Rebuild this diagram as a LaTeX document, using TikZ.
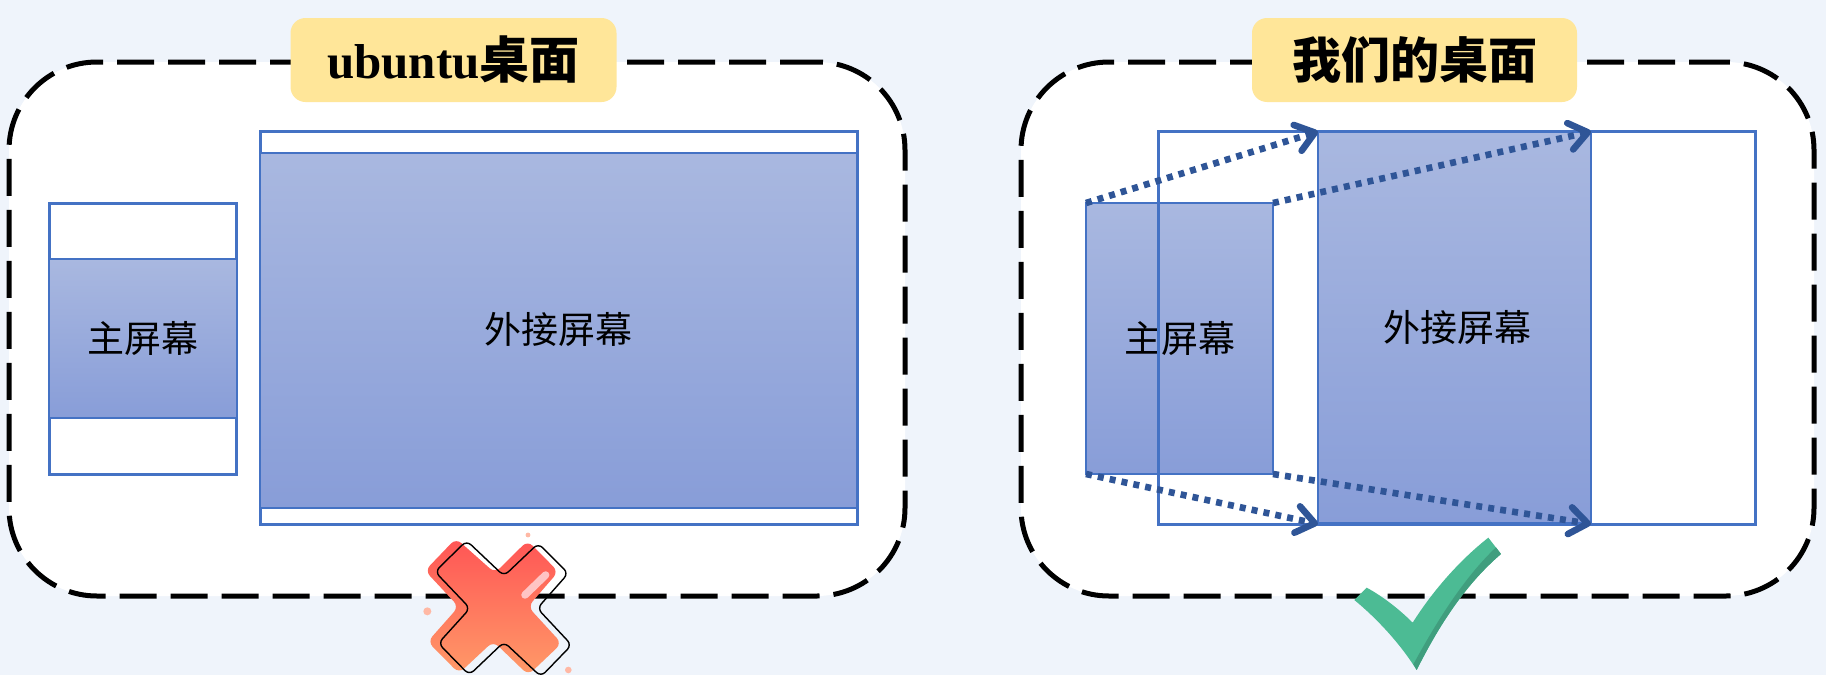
\documentclass[tikz,border=0pt]{standalone}
\usepackage{fontspec}
\setmainfont{Liberation Serif}
\newfontfamily\cjkfont{Noto Sans CJK SC}
\usetikzlibrary{arrows.meta,positioning}
\definecolor{pagebg}{HTML}{EFF4FB}
\definecolor{screenline}{HTML}{4472C4}
\definecolor{screentop}{HTML}{A9B8E0}
\definecolor{screenbot}{HTML}{889DD8}
\definecolor{arrowblue}{HTML}{2F5597}
\definecolor{badgefill}{HTML}{FFE699}
\definecolor{checkgreen}{HTML}{4CBB94}
\definecolor{checkdark}{HTML}{409E7E}
\definecolor{crosstop}{HTML}{FF5555}
\definecolor{crossbot}{HTML}{FF9A68}
\definecolor{crossdot}{HTML}{FFB8A4}
\definecolor{crossglow}{HTML}{FFC4C4}

\begin{document}
\begin{tikzpicture}[x=1pt, y=-1pt,
		desktop/.style={draw=black, fill=white, line width=5pt, rounded corners=88pt,
			dash pattern=on 37pt off 14pt, inner sep=0, outer sep=0},
		badge/.style={fill=badgefill, rounded corners=15pt, minimum height=84pt, inner sep=0,
			font=\fontsize{49}{56}\selectfont\bfseries},
		screenframe/.style={draw=screenline, line width=3pt, inner sep=0, outer sep=0},
		screenfill/.style={draw=screenline, line width=2pt, top color=screentop, bottom color=screenbot,
			inner sep=0, outer sep=0, font=\fontsize{37}{42}\selectfont\cjkfont},
		shiftline/.style={draw=arrowblue, line width=6.6pt, dash pattern=on 6pt off 6.1pt,
			-{Straight Barb[length=18pt,width=27pt,round]}}]
	\useasboundingbox (0,0) rectangle (1826,675);
	\fill[pagebg] (0,0) rectangle (1826,675);

	% left desktop
	\node[desktop, minimum width=896pt, minimum height=534pt] (boxL) at (457,329) {};
	\node[badge, minimum width=326pt] (titleL) at (453.5,60) {\raisebox{5pt}{ubuntu{\cjkfont\fontsize{50}{56}\selectfont 桌面}}};
	\node[screenframe, fill=white, minimum width=187.5pt, minimum height=271pt] (frameML) at (142.8,338.5) {};
	\node[screenfill, minimum width=187.5pt, minimum height=159.5pt] (mainL) at (142.8,338.3) {主屏幕};
	\node[screenframe, fill=white, minimum width=597pt, minimum height=392.4pt] (frameEL) at (558.5,327.8) {};
	\node[screenfill, minimum width=597pt, minimum height=355pt] (extL) at (558.5,330) {\raisebox{5pt}{外接屏幕}};

	% right desktop
	\node[desktop, minimum width=793pt, minimum height=534pt] (boxR) at (1417.5,329) {};
	\node[badge, minimum width=325pt] (titleR) at (1414.5,60) {\raisebox{5pt}{\cjkfont 我们的桌面}};
	\node[screenfill, minimum width=187pt, minimum height=271pt] (mainR) at (1179.5,338.5) {主屏幕};
	\node[screenframe, minimum width=597.5pt, minimum height=392.4pt] (frameR) at (1457.2,327.8) {};
	\node[screenfill, minimum width=273pt, minimum height=392.4pt] (extR) at (1454.5,327.8) {\raisebox{2pt}{\hspace*{6pt}外接屏幕}};
	\draw[screenline, line width=4.5pt] (extR.south west) -- (extR.south east);
	\foreach \a/\b in {mainR.north west/extR.north west, mainR.north east/extR.north east,
			mainR.south west/extR.south west, mainR.south east/extR.south east}
		\draw[shiftline] (\a) -- (\b);

	% cross
	\begin{scope}[shift={(380,500)}, x=0.3333pt, y=-0.3333pt]
		\fill[crossdot] (444,105) circle (2.4pt);
		\fill[crossdot] (142,334) circle (4pt);
		\fill[crossdot] (565,510) circle (3.3pt);
		\shade[top color=crosstop, bottom color=crossbot, rounded corners=7pt]
			(345,219) -- (228,115) -- (135,212) -- (236,320) -- (143,425) -- (237,520) -- (340,424)
			-- (445,525) -- (545,430) -- (444,320) -- (535,215) -- (443,122) -- cycle;
		\draw[crossglow, line width=7.5pt, line cap=round] (435,285) -- (497,225);
		\draw[black, line width=1.4pt, rounded corners=6pt]
			(372,228) -- (260,122) -- (165,215) -- (270,325) -- (175,430) -- (268,525) -- (372,426)
			-- (483,530) -- (575,435) -- (472,325) -- (565,220) -- (475,130) -- cycle;
	\end{scope}

	% check
	\begin{scope}[shift={(1320,480)}, x=0.3333pt, y=-0.3333pt]
		\fill[checkgreen] (103,360) -- (140,323) .. controls (190,350) and (240,390) .. (278,428)
			.. controls (340,330) and (420,240) .. (505,173) -- (543,222)
			.. controls (440,310) and (360,430) .. (290,570)
			.. controls (240,490) and (170,415) .. (103,360) -- cycle;
		\fill[checkdark] (528,202) -- (543,222) .. controls (440,310) and (360,430) .. (290,570)
			-- (280,553) .. controls (350,425) and (430,295) .. (528,202) -- cycle;
	\end{scope}
\end{tikzpicture}
\end{document}
